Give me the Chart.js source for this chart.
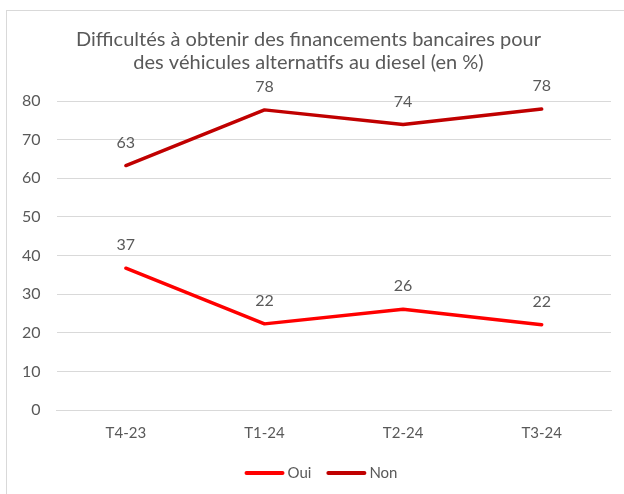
<!DOCTYPE html>
<html>
<head>
<meta charset="utf-8">
<script src="https://cdn.jsdelivr.net/npm/chart.js@4"></script>
<style>
  body { margin: 0; background: #fff; }
  #frame { position: absolute; left: 6px; top: 10px; width: 700px; height: 600px; border: 1px solid #d9d9d9; }
  #wrap { position: absolute; left: 0; top: 0; width: 624px; height: 494px; }
</style>
</head>
<body>
<div id="frame"></div>
<div id="wrap"><canvas id="myChart"></canvas></div>
<script>
// Données
const trimestres = ['T4-23', 'T1-24', 'T2-24', 'T3-24'];
const oui = [36.7, 22.3, 26.1, 22.1];
const non = [63.3, 77.7, 73.9, 77.9];
const titre = ['Difficultés à obtenir des financements bancaires pour', 'des véhicules alternatifs au diesel (en %)'];

const gris = '#595959';
const police = 'Lato, "Liberation Sans", sans-serif';

// étiquettes de valeurs au-dessus des points
const etiquettes = {
  id: 'etiquettes',
  afterDatasetsDraw(chart) {
    const ctx = chart.ctx;
    ctx.save();
    ctx.font = '16px ' + police;
    ctx.fillStyle = gris;
    ctx.textAlign = 'center';
    ctx.textBaseline = 'middle';
    chart.data.datasets.forEach((ds, i) => {
      chart.getDatasetMeta(i).data.forEach((pt, j) => {
        ctx.fillText(Math.round(ds.data[j]), pt.x, pt.y - 23);
      });
    });
    ctx.restore();
  }
};

// légende façon Excel : trait épais collé au texte
const legende = {
  id: 'legende',
  afterDraw(chart) {
    const ctx = chart.ctx;
    const trait = 40, ecart = 3, espace = 15;
    ctx.save();
    ctx.font = '15px ' + police;
    ctx.textBaseline = 'middle';
    const items = chart.data.datasets.map(ds => ({ ds, w: trait + ecart + ctx.measureText(ds.label).width }));
    const total = items.reduce((a, b) => a + b.w, 0) + espace * (items.length - 1);
    let x = chart.width / 2 + 9 - total / 2;
    const y = chart.height - 21;
    items.forEach(it => {
      ctx.strokeStyle = it.ds.borderColor;
      ctx.lineWidth = 4;
      ctx.lineCap = 'round';
      ctx.beginPath();
      ctx.moveTo(x + 2, y);
      ctx.lineTo(x + trait - 2, y);
      ctx.stroke();
      ctx.fillStyle = gris;
      ctx.fillText(it.ds.label, x + trait + ecart, y);
      x += it.w + espace;
    });
    ctx.restore();
  }
};

new Chart(document.getElementById('myChart'), {
  type: 'line',
  data: {
    labels: trimestres,
    datasets: [
      { label: 'Oui', data: oui, borderColor: '#ff0000', backgroundColor: '#ff0000', borderWidth: 3.5, borderCapStyle: 'round', borderJoinStyle: 'round', pointRadius: 0, tension: 0 },
      { label: 'Non', data: non, borderColor: '#c00000', backgroundColor: '#c00000', borderWidth: 3.5, borderCapStyle: 'round', borderJoinStyle: 'round', pointRadius: 0, tension: 0 }
    ]
  },
  options: {
    responsive: true,
    maintainAspectRatio: false,
    animation: false,
    layout: { padding: { left: 6, right: 13, top: 0, bottom: 46 } },
    plugins: {
      title: {
        display: true,
        text: titre,
        color: gris,
        font: { family: police, size: 20, weight: 'normal', lineHeight: 1.15 },
        padding: { top: 28, bottom: 27 }
      },
      legend: { display: false },
      tooltip: { enabled: false }
    },
    scales: {
      x: {
        offset: true,
        grid: { display: false },
        border: { color: '#d9d9d9', width: 1 },
        ticks: { color: gris, font: { family: police, size: 15 }, padding: 6 }
      },
      y: {
        min: 0,
        max: 80,
        grid: { color: '#d9d9d9', drawTicks: false },
        border: { display: false },
        ticks: { stepSize: 10, color: gris, font: { family: police, size: 16 }, padding: 16 }
      }
    }
  },
  plugins: [etiquettes, legende]
});
</script>
</body>
</html>
